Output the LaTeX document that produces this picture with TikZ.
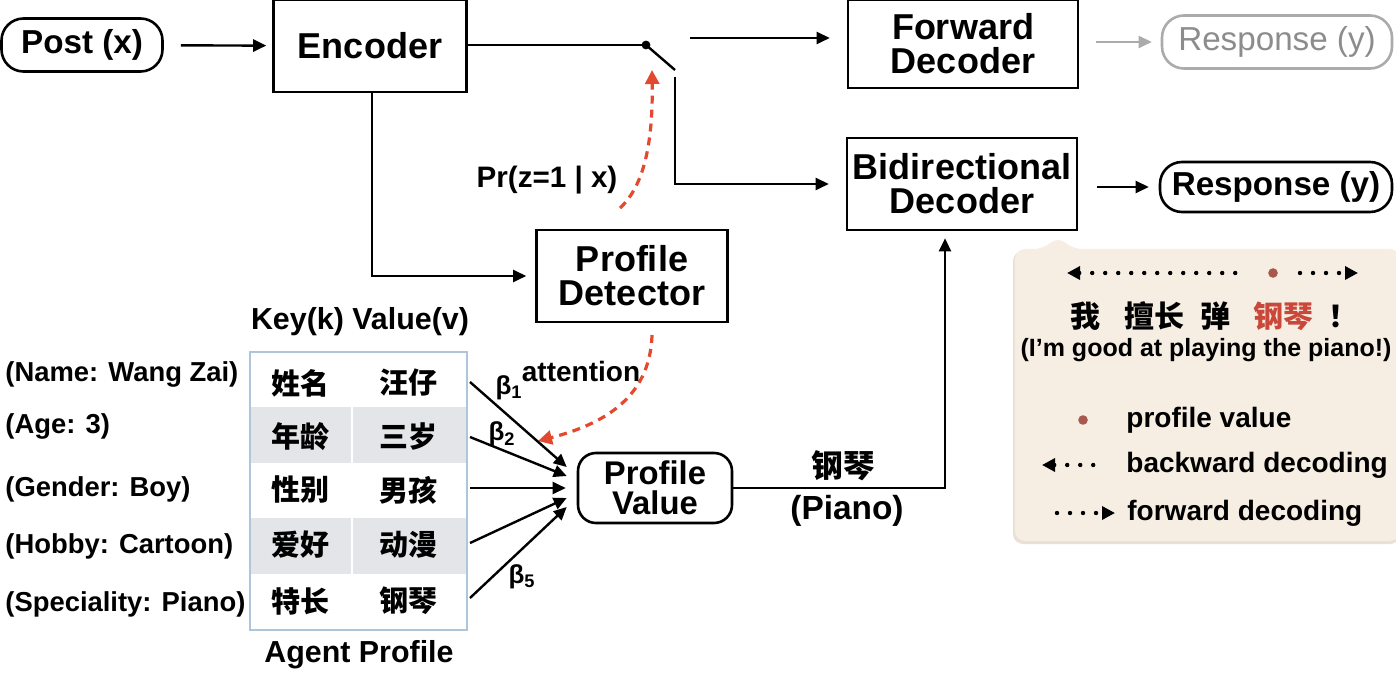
\documentclass[tikz,border=0pt]{standalone}
\usepackage{fontspec}
\setmainfont{Liberation Sans}
\newfontfamily\cjk{Noto Sans CJK SC}
\usetikzlibrary{arrows.meta,calc}
\definecolor{attn}{HTML}{E2492F}
\definecolor{callbg}{HTML}{F6EEE3}
\definecolor{callshadow}{HTML}{E9E1D6}
\definecolor{rowgray}{HTML}{E4E5E9}
\definecolor{tabline}{HTML}{AFC6DA}
\definecolor{valred}{HTML}{C9483A}
\definecolor{dotbrown}{HTML}{A8584C}
\definecolor{ghost}{HTML}{ABABAB}
\definecolor{ghosttext}{HTML}{8C8C8C}
\newcommand\sz[2]{\fontsize{#1}{#2}\selectfont}

\begin{document}
\begin{tikzpicture}[x=0.5pt,y=-0.5pt,
  blk/.style={draw, line width=1.3pt, inner sep=0pt, align=center, font=\sz{18}{17}\bfseries},
  pill/.style={draw, line width=1.3pt, rounded corners=11pt, inner sep=0pt, align=center, font=\sz{16.6}{15}\bfseries},
  link/.style={line width=1.2pt},
  arr/.style={link, -{Triangle[length=6.5pt,width=6pt]}},
  attnarr/.style={attn, line width=1.6pt, dash pattern=on 4pt off 3pt, -{Triangle[length=7pt,width=7pt]}},
  lbl/.style={inner sep=0pt, font=\sz{13.7}{15}\bfseries},
  cell/.style={inner sep=0pt, font=\cjk\bfseries\sz{14.5}{16}},
  beta/.style={inner sep=0pt, font=\sz{13}{14}\bfseries},
  legend/.style={inner sep=0pt, anchor=west, font=\sz{14}{15}\bfseries},
  dots/.style={line width=2.2pt, line cap=round, dash pattern=on 0pt off 6.5pt},
  tipl/.style={{Triangle[length=6.5pt,width=6.5pt]}-},
  tipr/.style={-{Triangle[length=6.5pt,width=6.5pt]}},
]
\useasboundingbox (0,0) rectangle (1396,673);

% ---------- main pipeline ----------
\node[pill, minimum width=80.5pt, minimum height=26.5pt] (post) at (82,45) {Post (x)};
\node[blk, minimum width=96.5pt, minimum height=46pt] (enc) at (370,46) {Encoder};
\node[blk, minimum width=115pt, minimum height=44pt] (fwd) at (963,44) {Forward\\Decoder};
\node[pill, draw=ghost, text=ghosttext, font=\sz{16.6}{15}, minimum width=115pt, minimum height=26.5pt] (resg) at (1277,42) {Response (y)};
\node[blk, minimum width=115pt, minimum height=46pt] (bid) at (962,184) {Bidirectional\\Decoder};
\node[pill, minimum width=116pt, minimum height=25pt] (res) at (1276,187) {Response (y)};
\node[blk, minimum width=95.5pt, minimum height=46pt] (det) at (632,276) {Profile\\Detector};
\node[pill, rounded corners=9pt, font=\sz{16.4}{15}\bfseries, minimum width=77pt, minimum height=35pt] (pv) at (655,488) {Profile\\Value};

\draw[arr, shorten <=8.5pt, shorten >=3pt] (post) -- (enc);

% switch between the two decoders
\coordinate (sw) at (646,45);
\coordinate (swtip) at (675,70);
\coordinate (swup) at (690,38);
\coordinate (swdown) at (675,77);
\draw[link] (enc.east |- sw) -- (sw);
\fill (sw) circle (2.2pt);
\draw[link] (sw) -- (swtip);
\draw[arr, shorten >=8.5pt] (swup) -- (swup -| fwd.west);
\draw[arr, shorten >=8.5pt] (swdown) |- (bid.west);

\draw[arr, draw=ghost, shorten <=8.5pt, shorten >=4.5pt] (fwd.east |- resg) -- (resg.west);
\draw[arr, shorten <=9.5pt, shorten >=5pt] (bid.east |- res) -- (res.west);

\draw[arr, shorten >=4.5pt] ($(enc.south)+(2,0)$) |- (det.west);

% switch probability
\coordinate (prfrom) at (620,208);
\coordinate (prto) at (652,70);
\draw[attnarr] (prfrom) .. controls (645,185) and (653,140) .. (prto);
\node[inner sep=0pt, font=\sz{14.8}{16}\bfseries] (prlbl) at (547,180) {Pr(z=1 | x)};

% attention over the profile
\coordinate (atfrom) at (652,335);
\coordinate (atto) at (538,441);
\draw[attnarr] (atfrom) .. controls (650,400) and (600,425) .. (atto);
\node[inner sep=0pt, font=\sz{14}{15}\bfseries] (atlbl) at (581,371) {attention};

% ---------- agent profile table ----------
\fill[rowgray] (250,407) rectangle (467,463);
\fill[rowgray] (250,518) rectangle (467,574);
\draw[white, line width=1pt] (352,407) -- (352,463) (352,518) -- (352,574);
\draw[tabline, line width=0.8pt] (250,352) rectangle (467,630);

\node[inner sep=0pt, font=\sz{15.2}{16}\bfseries] (hdr) at (360,322) {Key(k) Value(v)};
\node[inner sep=0pt, font=\sz{15.2}{16}\bfseries] (agent) at (359,655) {Agent Profile};

\node[cell] (k1) at (300,383) {姓名}; \node[cell] (v1) at (408,383) {汪仔};
\node[cell] (k2) at (300,437) {年龄}; \node[cell] (v2) at (408,437) {三岁};
\node[cell] (k3) at (300,490) {性别}; \node[cell] (v3) at (408,490) {男孩};
\node[cell] (k4) at (300,545) {爱好}; \node[cell] (v4) at (408,545) {动漫};
\node[cell] (k5) at (300,601) {特长}; \node[cell] (v5) at (408,601) {钢琴};

\node[lbl, anchor=west] (f1) at (5,374) {(Name: Wang Zai)};
\node[lbl, anchor=west] (f2) at (5,426) {(Age: 3)};
\node[lbl, anchor=west] (f3) at (5,489) {(Gender: Boy)};
\node[lbl, anchor=west] (f4) at (5,546) {(Hobby: Cartoon)};
\node[lbl, anchor=west] (f5) at (5,604) {(Speciality: Piano)};

% weighted rows flowing into the profile value
\coordinate (t1) at (470,382);
\coordinate (t2) at (470,437);
\coordinate (t3) at (470,488);
\coordinate (t4) at (470,543);
\coordinate (t5) at (470,598);
\draw[arr] (t1) -- ($(pv.west)+(-10,-21)$);
\draw[arr] (t2) -- ($(pv.west)+(-10,-12)$);
\draw[arr] (t3) -- ($(pv.west)+(-11,0)$);
\draw[arr] (t4) -- ($(pv.west)+(-10,10)$);
\draw[arr] (t5) -- ($(pv.west)+(-10,19)$);
\node[beta] (b1) at (509,388) {β\textsubscript{1}};
\node[beta] (b2) at (502,434) {β\textsubscript{2}};
\node[beta] (b5) at (522,577) {β\textsubscript{5}};

% profile value into the bidirectional decoder
\draw[arr, shorten >=3.5pt] (pv.east) -| ($(bid.south)+(-17,0)$);
\node[inner sep=0pt, font=\cjk\bfseries\sz{15.8}{17}] (pzh) at (843,466) {钢琴};
\node[inner sep=0pt, font=\sz{16.7}{18}\bfseries] (pen) at (847,511) {(Piano)};

% ---------- decoding illustration ----------
\fill[callshadow, rounded corners=5pt] (1013,251) -- (1042,251) -- (1058,238) -- (1074,251) -- (1400,251) -- (1400,544) -- (1013,544) -- cycle;
\fill[callbg, rounded corners=5pt] (1015,249) -- (1044,249) -- (1058,236) -- (1072,249) -- (1400,249) -- (1400,541) -- (1015,541) -- cycle;

\coordinate (bwl) at (1067,273);
\coordinate (bwr) at (1245,273);
\coordinate (pvdot) at (1273,273);
\coordinate (fwl) at (1300,273);
\coordinate (fwr) at (1358,273);
\draw[dots, tipl] (bwl) -- (bwr);
\fill[dotbrown] (pvdot) circle (2.4pt);
\draw[dots, tipr] (fwl) -- (fwr);

\node[inner sep=0pt, font=\cjk\bfseries\sz{15}{16}] (w1) at (1085,316) {我};
\node[inner sep=0pt, font=\cjk\bfseries\sz{15}{16}] (w2) at (1154,316) {擅长};
\node[inner sep=0pt, font=\cjk\bfseries\sz{15}{16}] (w3) at (1215,316) {弹};
\node[inner sep=0pt, font=\cjk\bfseries\sz{15}{16}, text=valred] (w4) at (1283,316) {钢琴};
\node[inner sep=0pt, font=\cjk\bfseries\sz{15}{16}] (w5) at (1343,316) {！};
\node[inner sep=0pt, font=\sz{12.5}{14}\bfseries] (gloss) at (1206,350) {(I’m good at playing the piano!)};

\coordinate (lgdot) at (1083,420);
\fill[dotbrown] (lgdot) circle (2.4pt);
\node[legend] (lg1) at (1126,420) {profile value};
\coordinate (lgbl) at (1042,465);
\coordinate (lgbr) at (1103,465);
\draw[dots, tipl] (lgbl) -- (lgbr);
\node[legend] (lg2) at (1126,465) {backward decoding};
\coordinate (lgfl) at (1057,513);
\coordinate (lgfr) at (1115,513);
\draw[dots, tipr] (lgfl) -- (lgfr);
\node[legend] (lg3) at (1127,513) {forward decoding};
\end{tikzpicture}
\end{document}
